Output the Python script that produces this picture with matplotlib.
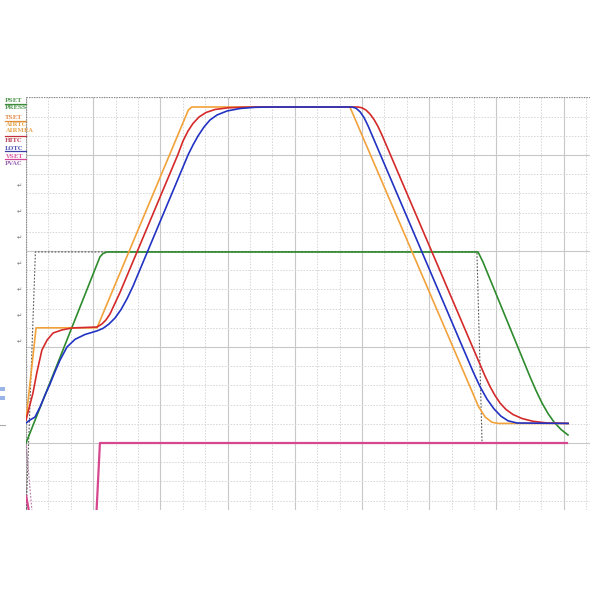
import matplotlib
matplotlib.use("Agg")
import matplotlib.pyplot as plt
from matplotlib.patches import Rectangle
from matplotlib.lines import Line2D

# ---------------- data (x: time units, y: value units) ----------------
tset_x = [0.00, 0.45, 3.17, 7.25, 7.40, 14.46, 20.20, 20.50, 20.80, 21.07, 24.20]
tset_y = [1.20, 6.00, 6.00, 17.35, 17.50, 17.50, 1.90, 1.35, 1.08, 1.02, 1.02]

hitc_x = [0.00, 0.31, 0.49, 0.71, 0.94, 1.21, 1.61, 2.05, 3.17, 3.39, 3.57, 3.75,
          4.20, 6.786, 7.009, 7.232, 7.455, 7.723, 8.036, 8.438, 9.018, 9.777,
          10.45, 14.821, 15.00, 15.179, 15.357, 15.536, 15.714, 15.893,
          20.268, 20.491, 20.714, 20.938, 21.161, 21.429, 21.741, 22.143,
          22.634, 23.259, 24.20]
hitc_y = [1.20, 2.60, 3.70, 4.84, 5.36, 5.73, 5.89, 5.99, 6.04, 6.20, 6.41, 6.72,
          7.85, 15.036, 15.729, 16.25, 16.641, 16.979, 17.214, 17.37, 17.458, 17.49,
          17.50, 17.50, 17.458, 17.339, 17.135, 16.849, 16.484, 16.036,
          4.094, 3.49, 2.943, 2.474, 2.083, 1.745, 1.484, 1.276,
          1.130, 1.042, 1.02]

lotc_x = [0.00, 0.18, 0.40, 0.63, 0.85, 1.07, 1.29, 1.52, 1.83, 2.19, 2.63, 3.17,
          3.438, 3.705, 3.973, 4.241, 4.509, 4.777, 5.089, 7.009, 7.232, 7.455,
          7.679, 7.946, 8.214, 8.527, 8.973, 9.554, 10.223, 10.893,
          14.554, 14.732, 14.911, 15.089, 15.268, 19.955, 20.268, 20.58, 20.893,
          21.205, 21.518, 21.92, 24.20]
lotc_y = [1.04, 1.20, 1.35, 1.88, 2.50, 3.07, 3.70, 4.32, 5.00, 5.40, 5.65, 5.84,
          5.97, 6.198, 6.51, 6.948, 7.51, 8.167, 9.036, 14.375, 15.0, 15.521,
          15.99, 16.458, 16.823, 17.083, 17.292, 17.422, 17.484, 17.50,
          17.50, 17.438, 17.255, 16.953, 16.526, 3.724, 2.938, 2.286, 1.776,
          1.396, 1.156, 1.042, 1.02]

press_x = [0.00, 3.30, 3.44, 3.62, 20.18, 20.40, 22.50, 22.768, 23.036, 23.304,
           23.571, 23.884, 24.196]
press_y = [0.00, 9.69, 9.87, 9.95, 9.95, 9.43, 3.453, 2.734, 2.083, 1.536,
           1.094, 0.703, 0.417]

pset_x = [0.00, 0.42, 20.13, 20.36, 24.20]
pset_y = [-3.80, 9.95, 9.95, 0.00, 0.00]

vset_x = [0.00, 0.20, 3.13, 3.30, 24.20]
vset_y = [-2.70, -4.00, -4.00, 0.00, 0.00]

pvac_x = [0.00, 0.30]
pvac_y = [0.00, -4.00]

legend_labels = ["PSET", "PRESS", "TSET", "AIRTC", "AIRMEA", "HITC", "LOTC", "VSET", "PVAC"]
legend_colors = ["#3c8c3c", "#3c8c3c", "#e0803a", "#e39a3a", "#e39a3a",
                 "#b0304a", "#3a40a8", "#d2479a", "#8a50a8"]
tick_marks = ["\u21b5"] * 7

# ---------------- figure ----------------
W, H = 600, 600
fig = plt.figure(figsize=(6, 6), dpi=100)
fig.patch.set_facecolor("white")

x0, x1, ytop, ybot = 26, 590, 97, 510
ax = fig.add_axes([x0 / W, 1 - ybot / H, (x1 - x0) / W, (ybot - ytop) / H])
ax.set_xlim(0, (x1 - x0) / 22.4)
ax.set_ylim((443 - ybot) / 19.2, (443 - ytop) / 19.2)
for s in ax.spines.values():
    s.set_visible(False)
ax.set_xticks([]); ax.set_yticks([])

# grid
for i in range(0, 26):
    major = (i % 3 == 0)
    ax.axvline(i, color="#c8c8c8" if major else "#d6d6d6",
               lw=0.8 if major else 0.7,
               ls="-" if major else (0, (1.5, 1.5)), zorder=0)
for j in range(-3, 19):
    major = (j % 5 == 0)
    ax.axhline(j, color="#c8c8c8" if major else "#d6d6d6",
               lw=0.8 if major else 0.7,
               ls="-" if major else (0, (1.5, 1.5)), zorder=0)
# borders (dotted)
ax.axhline(ax.get_ylim()[1], color="#888888", lw=0.9, ls=(0, (1, 1)), zorder=1)
ax.axvline(0, color="#888888", lw=0.9, ls=(0, (1, 1)), zorder=1)

lw = 1.2
ax.plot(pset_x, pset_y, color="#555555", lw=0.8, ls=(0, (1.5, 1.5)), zorder=2)
ax.plot(pvac_x, pvac_y, color="#b070a0", lw=0.8, ls=(0, (1.5, 1.5)), zorder=2)
ax.plot(vset_x, vset_y, color="#d6478e", lw=1.6, zorder=3, solid_capstyle="butt")
ax.plot(press_x, press_y, color="#2e8b2e", lw=lw, zorder=4)
ax.plot(tset_x, tset_y, color="#f2a23a", lw=lw, zorder=5)
ax.plot(hitc_x, hitc_y, color="#d42a2a", lw=lw, zorder=6)
ax.plot(lotc_x, lotc_y, color="#2233c4", lw=lw, zorder=7)

# legend tags at top-left
leg_y = [101, 108, 117, 124, 131, 140, 148, 156, 163]
for lab, col, yy in zip(legend_labels, legend_colors, leg_y):
    fig.text(5 / W, 1 - yy / H, lab, color=col, fontsize=4.2, va="center", ha="left",
             family="DejaVu Serif", fontweight="bold", alpha=0.85)
for yy, col in [(104, "#3c8c3c"), (121, "#e0903a"), (136, "#c0303a"), (151, "#3a40a8"), (159, "#d2479a")]:
    fig.add_artist(Line2D([5 / W, 26 / W], [1 - yy / H, 1 - yy / H], color=col, lw=0.9))

# tick-like glyphs
for k, t in enumerate(tick_marks):
    yy = 186 + 26 * k
    fig.text(19 / W, 1 - yy / H, t, color="#777777", fontsize=4.5, ha="center", va="center")

# small decorations on the far left
fig.add_artist(Rectangle((0, 1 - 391 / H), 5 / W, 4 / H, color="#9ab4e8", lw=0))
fig.add_artist(Rectangle((0, 1 - 400 / H), 5 / W, 4 / H, color="#9ab4e8", lw=0))
fig.add_artist(Line2D([0, 5 / W], [1 - 425 / H, 1 - 425 / H], color="#aaaaaa", lw=0.8))

fig.savefig("out.png", dpi=100, facecolor="white")
